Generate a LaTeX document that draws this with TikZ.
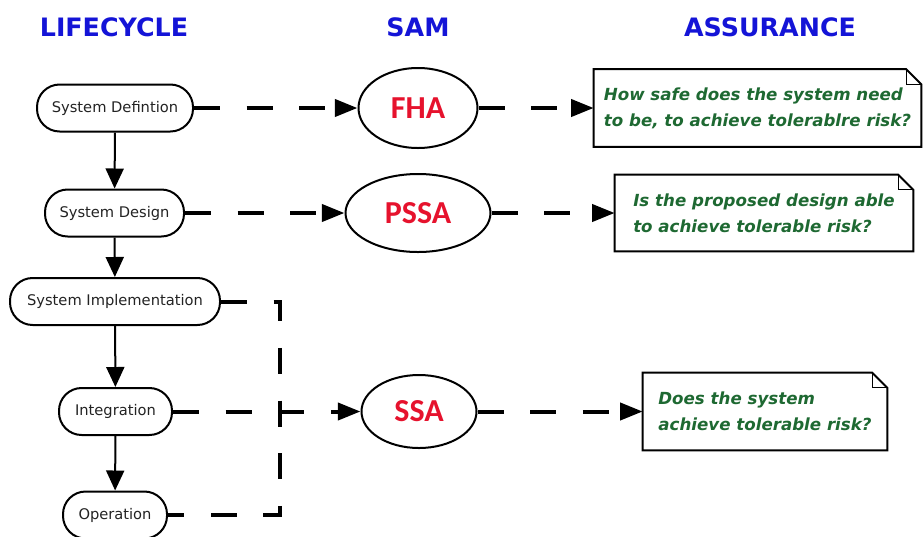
\documentclass[tikz,border=0pt]{standalone}
\usepackage{fontspec}
\setmainfont{DejaVu Sans}
\newfontfamily\carlito{Carlito}
\usetikzlibrary{arrows.meta,shapes.geometric}
\definecolor{hdrblue}{RGB}{20,20,215}
\definecolor{samred}{RGB}{230,18,45}
\definecolor{notegreen}{RGB}{30,105,50}
\definecolor{txtgray}{RGB}{35,35,35}
\newcommand\notepath[1]{%
  \draw[line width=1.5pt,line join=miter] (#1.south west) -- (#1.north west) -- ([xshift=-11.25pt]#1.north east) -- ([yshift=-11.25pt]#1.north east) -- (#1.south east) -- cycle;
  \draw[line width=1pt] ([xshift=-11.25pt]#1.north east) -- ([xshift=-11.25pt,yshift=-11.25pt]#1.north east) -- ([yshift=-11.25pt]#1.north east);}
\begin{document}
\begin{tikzpicture}[x=0.75pt,y=-0.75pt,
  hdr/.style={text=hdrblue,font=\fontsize{19}{22}\selectfont\bfseries},
  life/.style={draw,line width=1.5pt,rounded corners=17pt,minimum height=35.25pt,inner sep=0pt,text=txtgray,font=\fontsize{11}{13}\selectfont,fill=white},
  sam/.style={draw,ellipse,line width=1.5pt,inner sep=0pt,text=samred,font=\carlito\bfseries\fontsize{24}{28}\selectfont},
  notebox/.style={inner sep=0pt,text=notegreen,font=\fontsize{12.5}{19.5}\selectfont\bfseries\itshape,align=left},
  flow/.style={line width=1.5pt,-{Triangle[length=15pt,width=13.5pt]}},
  sdash/.style={line width=3pt,dash pattern=on 19.5pt off 20pt},
  sarrow/.style={sdash,-{Triangle[length=17pt,width=12.75pt]}},
]
\useasboundingbox[fill=white] (0,0) rectangle (923,536);

% headers
\node[hdr] (h1) at (114,27) {LIFECYCLE};
\node[hdr] (h2) at (418,27) {SAM};
\node[hdr] (h3) at (770,27) {ASSURANCE};

% lifecycle
\node[life,minimum width=117pt] (sysdef) at (115,108) {System Defintion};
\node[life,minimum width=104.25pt] (sysdes) at (114.5,213) {System Design};
\node[life,minimum width=157.5pt] (sysimp) at (115,301.5) {System Implementation};
\node[life,minimum width=84.75pt] (integ) at (115.5,411.5) {Integration};
\node[life,minimum width=78pt] (oper) at (115,515) {Operation};

% SAM
\node[sam,minimum width=89.25pt,minimum height=60pt] (fha) at (418,108) {FHA};
\node[sam,minimum width=108.75pt,minimum height=58.5pt] (pssa) at (418,213) {PSSA};
\node[sam,minimum width=86.25pt,minimum height=54.75pt] (ssa) at (419,411.5) {SSA};

% notes
\node[notebox,minimum width=245.25pt,minimum height=57.75pt] (n1) at (757.5,108)
  {How safe does the system need\\to be, to achieve tolerablre risk?};
\node[notebox,minimum width=223.5pt,minimum height=57pt] (n2) at (764,213)
  {Is the proposed design able\\to achieve tolerable risk?\hspace{6pt}};
\node[notebox,minimum width=183pt,minimum height=57.75pt] (n3) at (765,411.5)
  {Does the system\\achieve tolerable risk?\hspace{4pt}};
\notepath{n1}
\notepath{n2}
\notepath{n3}

% lifecycle flow
\draw[flow] (sysdef) -- (sysdes);
\draw[flow] (sysdes) -- (sysimp);
\draw[flow] (sysimp) -- (integ);
\draw[flow] (integ) -- (oper);

% dashed connectors
\draw[sarrow] (sysdef.east) -- (fha.west);
\draw[sarrow] (fha.east) -- (n1.west);
\draw[sarrow] (sysdes.east) -- (pssa.west);
\draw[sarrow] (pssa.east) -- (n2.west);
\draw[sarrow] (integ.east) -- (ssa.west);
\draw[sarrow] (ssa.east) -- (n3.west);

\coordinate (brk) at (280,410);
\draw[sdash,line join=miter] (sysimp.east) -| (brk) |- (oper.east);
\end{tikzpicture}
\end{document}
